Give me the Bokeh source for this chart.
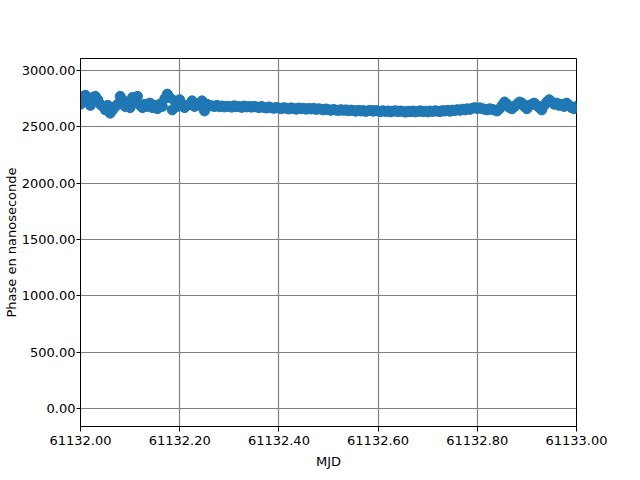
from bokeh.plotting import figure
from bokeh.models import Range1d, FixedTicker, PrintfTickFormatter, ColumnDataSource
from bokeh.embed import file_html
from bokeh.resources import INLINE

# MJD offsets from 61132.0 (step 0.005 day)
mjd_base = 61132.0
mjd_step = 0.005
phase_ns = [
    2700, 2770, 2780, 2720, 2690, 2760, 2770, 2740, 2700, 2680,
    2650, 2690, 2620, 2650, 2680, 2700, 2770, 2740, 2680, 2700,
    2670, 2760, 2720, 2770, 2690, 2670, 2700, 2680, 2710, 2670,
    2690, 2660, 2700, 2680, 2750, 2790, 2760, 2650, 2730, 2680,
    2740, 2700, 2670, 2690, 2700, 2730, 2680, 2700, 2690, 2730,
    2640, 2700, 2690, 2685, 2680, 2690, 2678, 2684, 2676, 2682,
    2680, 2674, 2686, 2678, 2680, 2672, 2684, 2676, 2680, 2674,
    2682, 2676, 2670, 2680, 2672, 2666, 2676, 2668, 2664, 2672,
    2666, 2660, 2670, 2664, 2658, 2668, 2662, 2656, 2666, 2660,
    2664, 2656, 2662, 2658, 2664, 2654, 2660, 2656, 2650, 2658,
    2652, 2646, 2654, 2648, 2644, 2652, 2646, 2650, 2642, 2648,
    2644, 2638, 2646, 2640, 2644, 2636, 2642, 2646, 2638, 2644,
    2640, 2634, 2642, 2636, 2640, 2632, 2638, 2642, 2634, 2640,
    2636, 2630, 2638, 2634, 2640, 2632, 2636, 2642, 2634, 2638,
    2632, 2640, 2636, 2642, 2638, 2634, 2644, 2640, 2646, 2638,
    2648, 2644, 2652, 2646, 2656, 2650, 2660, 2654, 2664, 2670,
    2662, 2668, 2660, 2656, 2650, 2660, 2654, 2648, 2640, 2660,
    2690, 2720, 2700, 2670, 2660, 2680, 2700, 2720, 2710, 2680,
    2660, 2690, 2700, 2710, 2690, 2670, 2650, 2690, 2720, 2740,
    2720, 2700, 2710, 2690, 2700, 2680, 2710, 2690, 2670, 2660,
    2680,
]
mjd = [mjd_base + i * mjd_step for i in range(len(phase_ns))]

x_ticks = [61132.0, 61132.2, 61132.4, 61132.6, 61132.8, 61133.0]
y_ticks = [0, 500, 1000, 1500, 2000, 2500, 3000]

src = ColumnDataSource(data=dict(mjd=mjd, phase=phase_ns))

p = figure(
    frame_width=496, frame_height=368,
    x_range=Range1d(61132.0, 61133.0),
    y_range=Range1d(-160, 3106),
    output_backend="svg", toolbar_location=None,
    min_border_top=58, min_border_right=56, min_border_bottom=50, min_border_left=80,
)
p.scatter("mjd", "phase", source=src, size=10, color="#1f77b4")

p.xaxis.ticker = FixedTicker(ticks=x_ticks)
p.yaxis.ticker = FixedTicker(ticks=y_ticks)
p.xaxis.formatter = PrintfTickFormatter(format="%.2f")
p.yaxis.formatter = PrintfTickFormatter(format="%.2f")
p.xaxis.axis_label = "MJD"
p.yaxis.axis_label = "Phase en nanoseconde"

for ax in (p.xaxis, p.yaxis):
    ax.major_label_text_font = "DejaVu Sans"
    ax.major_label_text_font_size = "13px"
    ax.major_label_text_color = "black"
    ax.axis_label_text_font = "DejaVu Sans"
    ax.axis_label_text_font_size = "13px"
    ax.axis_label_text_font_style = "normal"
    ax.axis_label_text_color = "black"
    ax.axis_line_color = "black"
    ax.major_tick_line_color = "black"
    ax.major_tick_out = 5
    ax.major_tick_in = 0
    ax.minor_tick_line_color = None

p.yaxis.major_tick_out = 4
p.yaxis.major_label_standoff = 1
p.yaxis.axis_label_standoff = 0
p.xaxis.major_label_standoff = 4
p.xaxis.axis_label_standoff = 6

p.xgrid.grid_line_color = "#808080"
p.ygrid.grid_line_color = "#808080"
p.xgrid.grid_line_width = 1.2
p.ygrid.grid_line_width = 1.2
p.outline_line_color = "black"
p.outline_line_alpha = 1
p.outline_line_width = 1
p.background_fill_color = "white"
p.border_fill_color = "white"

open("out.html", "w").write(file_html(p, INLINE))
